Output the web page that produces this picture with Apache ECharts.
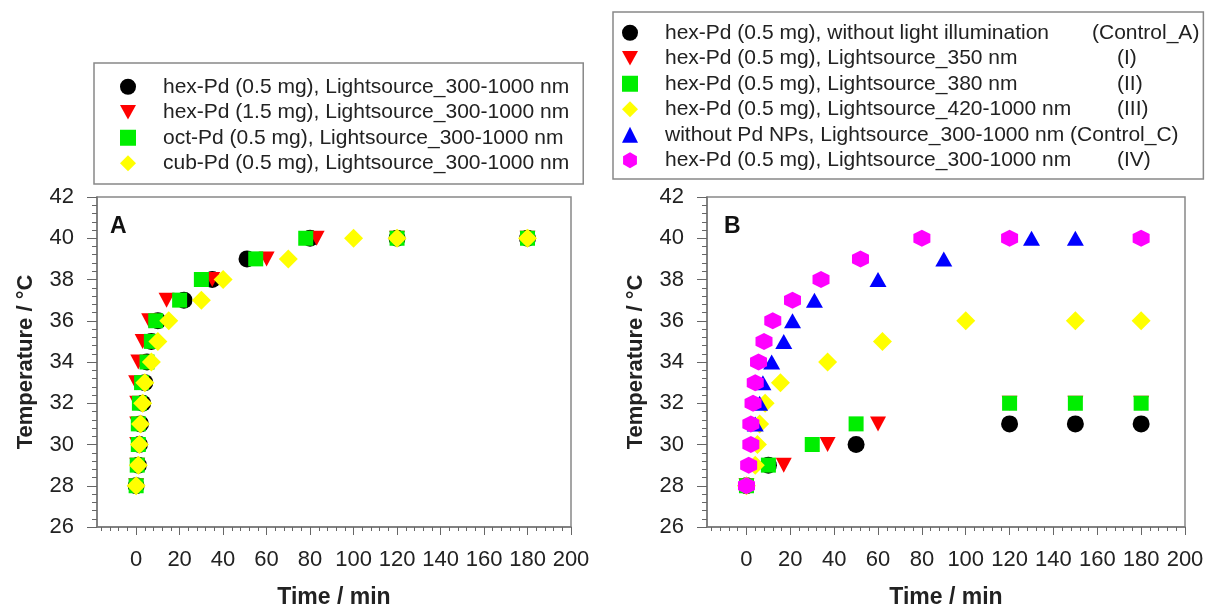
<!DOCTYPE html>
<html>
<head>
<meta charset="utf-8">
<title>Temperature vs time</title>
<script src="https://cdn.jsdelivr.net/npm/echarts@6/dist/echarts.min.js"></script>
<style>
  html, body { margin: 0; padding: 0; background: #fff; }
  #chart { width: 1210px; height: 614px; }
</style>
</head>
<body>
<div id="chart"></div>
<script>
// tick values
const xMajor = [0, 20, 40, 60, 80, 100, 120, 140, 160, 180, 200]
const xMinor = [-16, -12, -8, -4, 4, 8, 12, 16, 24, 28, 32, 36, 44, 48, 52, 56, 64, 68, 72, 76, 84, 88, 92, 96,
  104, 108, 112, 116, 124, 128, 132, 136, 144, 148, 152, 156, 164, 168, 172, 176, 184, 188, 192, 196]

// panel A  [time / min, temperature / °C]
const hex05A = [[0, 28], [1, 29], [1.5, 30], [2, 31], [3, 32], [4, 33], [5, 34], [7, 35], [10, 36], [22, 37], [35, 38], [51, 39], [80, 40], [120, 40], [180, 40]]
const hex15A = [[0, 28], [0.5, 29], [0.5, 30], [0.5, 31], [0.5, 32], [0, 33], [1, 34], [3, 35], [6, 36], [14, 37], [35, 38], [60, 39], [83, 40], [120, 40], [180, 40]]
const octA = [[0, 28], [0.5, 29], [1, 30], [1, 31], [1.5, 32], [2.5, 33], [5, 34], [7, 35], [9, 36], [20, 37], [30, 38], [55, 39], [78, 40], [120, 40], [180, 40]]
const cubA = [[0, 28], [1, 29], [1.5, 30], [2, 31], [3, 32], [4, 33], [7, 34], [10, 35], [15, 36], [30, 37], [40, 38], [70, 39], [100, 40], [120, 40], [180, 40]]

// panel B
const ctrlA = [[0, 28], [10, 29], [50, 30], [120, 31], [150, 31], [180, 31]]
const ls350 = [[0, 28], [17, 29], [37, 30], [60, 31], [120, 32], [150, 32], [180, 32]]
const ls380 = [[0, 28], [10, 29], [30, 30], [50, 31], [120, 32], [150, 32], [180, 32]]
const ls420 = [[0, 28], [4, 29], [5, 30], [6, 31], [8.5, 32], [15.5, 33], [37, 34], [62, 35], [100, 36], [150, 36], [180, 36]]
const ctrlC = [[4, 31], [6, 32], [7.5, 33], [11.5, 34], [17, 35], [21, 36], [31, 37], [60, 38], [90, 39], [130, 40], [150, 40]]
const ls300 = [[0, 28], [1, 29], [2, 30], [2, 31], [3, 32], [4, 33], [5.5, 34], [8, 35], [12, 36], [21, 37], [34, 38], [52, 39], [80, 40], [120, 40], [180, 40]]

const namesA = [
  'hex-Pd (0.5 mg), Lightsource_300-1000 nm',
  'hex-Pd (1.5 mg), Lightsource_300-1000 nm',
  'oct-Pd (0.5 mg), Lightsource_300-1000 nm',
  'cub-Pd (0.5 mg), Lightsource_300-1000 nm'
]
const labelsB = [
  'hex-Pd (0.5 mg), without light illumination',
  'hex-Pd (0.5 mg), Lightsource_350 nm',
  'hex-Pd (0.5 mg), Lightsource_380 nm',
  'hex-Pd (0.5 mg), Lightsource_420-1000 nm',
  'without Pd NPs, Lightsource_300-1000 nm',
  'hex-Pd (0.5 mg), Lightsource_300-1000 nm'
]
const tagsB = ['(Control_A)', '(I)', '(II)', '(III)', '(Control_C)', '(IV)']
const namesB = labelsB.map((l, i) => l + ' ' + tagsB[i])

const FONT = '"Liberation Sans", Arial, sans-serif'
const TRI_DOWN = 'path://M0,0 L10,0 L5,9 Z'
const HEXAGON = 'path://M5,0 L9.33,2.5 L9.33,7.5 L5,10 L0.67,7.5 L0.67,2.5 Z'

// marker styles, in legend order
const marks = [
  { symbol: 'circle', size: 17, color: '#000000' },
  { symbol: TRI_DOWN, size: [16, 15], color: '#ff0000' },
  { symbol: 'rect', size: 15, color: '#00ee00' },
  { symbol: 'diamond', size: 19, color: '#ffff00' },
  { symbol: 'triangle', size: [17, 15], color: '#0000ff' },
  { symbol: HEXAGON, size: 17, color: '#ff00ff' }
]

function scatter(name, data, m, idx) {
  return {
    name: name,
    type: 'scatter',
    xAxisIndex: idx * 2,
    yAxisIndex: idx,
    data: data,
    symbol: m.symbol,
    symbolSize: m.size,
    itemStyle: { color: m.color, opacity: 1 },
    emphasis: { disabled: true }
  }
}

function xAxes(grid) {
  return [
    {
      gridIndex: grid,
      type: 'value',
      min: -18,
      max: 200,
      position: 'bottom',
      name: 'Time / min',
      nameLocation: 'middle',
      nameGap: 59,
      nameTextStyle: { fontFamily: FONT, fontSize: 23, fontWeight: 'bold', color: '#222' },
      axisLine: { show: true, onZero: false, lineStyle: { color: '#777', width: 1.5 } },
      axisTick: { show: true, inside: false, length: 8, customValues: xMajor, lineStyle: { color: '#666' } },
      axisLabel: { customValues: xMajor, margin: 22, fontFamily: FONT, fontSize: 22, color: '#222' },
      splitLine: { show: false }
    },
    {
      gridIndex: grid,
      type: 'value',
      min: -18,
      max: 200,
      position: 'bottom',
      axisLine: { show: false },
      axisTick: { show: true, inside: false, length: 4, customValues: xMinor, lineStyle: { color: '#666' } },
      axisLabel: { show: false },
      splitLine: { show: false }
    }
  ]
}

function yAxis(grid) {
  return {
    gridIndex: grid,
    type: 'value',
    min: 26,
    max: 42,
    interval: 2,
    name: 'Temperature / °C',
    nameLocation: 'middle',
    nameGap: 60,
    nameTextStyle: { fontFamily: FONT, fontSize: 22, fontWeight: 'bold', color: '#222' },
    axisLine: { show: true, onZero: false, lineStyle: { color: '#777', width: 1.5 } },
    axisTick: { show: true, inside: false, length: 10, lineStyle: { color: '#666' } },
    minorTick: { show: true, splitNumber: 5, length: 5, lineStyle: { color: '#666' } },
    axisLabel: { margin: 23, fontFamily: FONT, fontSize: 22, color: '#222' },
    splitLine: { show: false }
  }
}

const legendText = {
  fontFamily: FONT,
  fontSize: 21,
  color: '#222',
  lineHeight: 25.5,
  padding: [0, 0, 0, 22]
}

const chart = echarts.init(document.getElementById('chart'), null, { renderer: 'canvas' })

chart.setOption({
  backgroundColor: '#fff',
  animation: false,
  title: [
    { text: 'A', left: 105, top: 210, textStyle: { fontFamily: FONT, fontSize: 23, fontWeight: 'bold', color: '#111' } },
    { text: 'B', left: 719, top: 210, textStyle: { fontFamily: FONT, fontSize: 23, fontWeight: 'bold', color: '#111' } }
  ],
  legend: [
    {
      data: namesA,
      orient: 'vertical',
      left: 94,
      top: 63,
      padding: [11, 14, 8, 26],
      itemGap: 0,
      itemWidth: 16,
      itemHeight: 16,
      borderColor: '#888',
      borderWidth: 1.5,
      selectedMode: false,
      textStyle: legendText
    },
    {
      data: namesB,
      orient: 'vertical',
      left: 613,
      top: 12,
      padding: [8, 4, 6, 9],
      itemGap: 0,
      itemWidth: 16,
      itemHeight: 16,
      borderColor: '#888',
      borderWidth: 1.5,
      selectedMode: false,
      textStyle: Object.assign({}, legendText, {
        rich: {
          a: { fontFamily: FONT, fontSize: 21, color: '#222', width: 427 },
          r: { fontFamily: FONT, fontSize: 21, color: '#222', width: 452 },
          t: { fontFamily: FONT, fontSize: 21, color: '#222' }
        }
      }),
      formatter: function (name) {
        const i = namesB.indexOf(name)
        if (i === 4) return '{t|' + name + '}'
        return (i === 0 ? '{a|' : '{r|') + labelsB[i] + '}{t|' + tagsB[i] + '}'
      }
    }
  ],
  grid: [
    { left: 97, top: 197, width: 474, height: 333, show: true, borderColor: '#888', borderWidth: 1.5 },
    { left: 707, top: 197, width: 478, height: 333, show: true, borderColor: '#888', borderWidth: 1.5 }
  ],
  xAxis: xAxes(0).concat(xAxes(1)),
  yAxis: [yAxis(0), yAxis(1)],
  series: [
    scatter(namesA[0], hex05A, marks[0], 0),
    scatter(namesA[1], hex15A, marks[1], 0),
    scatter(namesA[2], octA, marks[2], 0),
    scatter(namesA[3], cubA, marks[3], 0),
    scatter(namesB[0], ctrlA, marks[0], 1),
    scatter(namesB[1], ls350, marks[1], 1),
    scatter(namesB[2], ls380, marks[2], 1),
    scatter(namesB[3], ls420, marks[3], 1),
    scatter(namesB[4], ctrlC, marks[4], 1),
    scatter(namesB[5], ls300, marks[5], 1)
  ]
})

window.addEventListener('resize', () => chart.resize())
</script>
</body>
</html>
